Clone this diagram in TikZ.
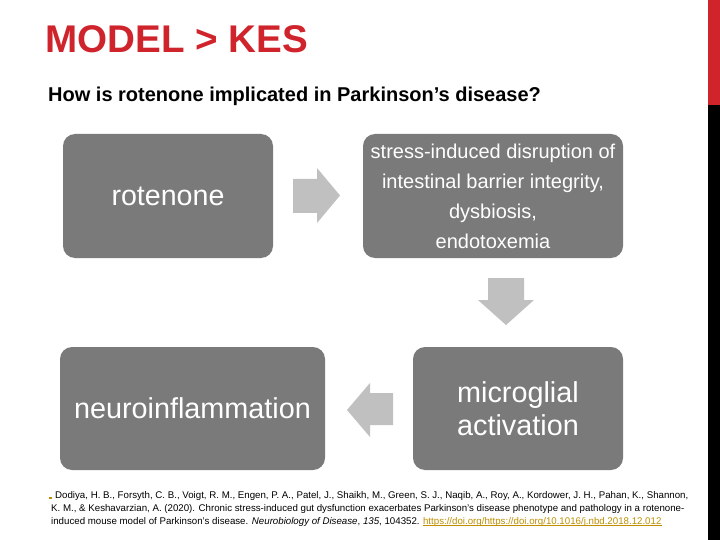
\documentclass[tikz,border=0pt]{standalone}
\usepackage{fontspec}
\setmainfont{Liberation Sans}
\definecolor{titlered}{RGB}{208,36,44}
\definecolor{boxgray}{RGB}{122,122,122}
\definecolor{arrowgray}{RGB}{192,192,192}
\definecolor{linkgold}{RGB}{191,143,0}
\begin{document}
\begin{tikzpicture}[x=1pt,y=-1pt,
  procbox/.style={fill=boxgray, draw=none, rounded corners=12pt, inner sep=0pt, text=white, align=center},
  blockarrow/.style={fill=arrowgray, draw=none},
  citeline/.style={anchor=base west, inner sep=0pt, font=\fontsize{9.7}{11}\selectfont}]
\useasboundingbox (0,0) rectangle (720,540);
\fill[white] (0,0) rectangle (720,540);
% side bar
\fill[titlered] (708,0) rectangle (720,105);
\fill[black] (708,105) rectangle (720,540);
% title
\node[anchor=base west, inner sep=0pt, text=titlered, font=\fontsize{38.6}{40}\selectfont\bfseries] (title) at (45,53) {MODEL > KES};
\node[anchor=base west, inner sep=0pt, font=\fontsize{20}{22}\selectfont\bfseries] (sub) at (48,102) {How is rotenone implicated in Parkinson’s disease?};
% boxes
\node[procbox, minimum width=210, minimum height=124, font=\fontsize{28.6}{33}\selectfont] (rot) at (168,196) {rotenone};
\node[procbox, minimum width=260, minimum height=124, font=\fontsize{20}{30}\selectfont] (stress) at (493,196) {stress-induced disruption of\\intestinal barrier integrity,\\dysbiosis,\\endotoxemia};
\node[procbox, minimum width=210, minimum height=123, font=\fontsize{28.8}{33}\selectfont] (micro) at (518,408.5) {microglial\\activation};
\node[procbox, minimum width=265, minimum height=123, font=\fontsize{28.8}{33}\selectfont] (neuro) at (192.5,408.5) {neuroinflammation};
% block arrows
\fill[blockarrow] (293,179) -- (317,179) -- (317,168) -- (340,195.5) -- (317,223) -- (317,213) -- (293,213) -- cycle;
\fill[blockarrow] (488,278) -- (524,278) -- (524,300) -- (534,300) -- (506,325) -- (478,300) -- (488,300) -- cycle;
\fill[blockarrow] (393,393) -- (370,393) -- (370,383) -- (347,410) -- (370,437) -- (370,425) -- (393,425) -- cycle;
% citation
\fill[linkgold] (49,497) rectangle (52,498.5);
\node[citeline] (c1) at (55,498) {Dodiya, H. B., Forsyth, C. B., Voigt, R. M., Engen, P. A., Patel, J., Shaikh, M., Green, S. J., Naqib, A., Roy, A., Kordower, J. H., Pahan, K., Shannon,};
\node[citeline] (c2) at (51,511) {K. M., \& Keshavarzian, A. (2020). Chronic stress-induced gut dysfunction exacerbates Parkinson’s disease phenotype and pathology in a rotenone-};
\node[citeline] (c3) at (51,524) {induced mouse model of Parkinson’s disease. \textit{Neurobiology of Disease}, \textit{135}, 104352.};
\node[citeline, text=linkgold, xshift=3pt] (lnk) at (c3.base east) {https://doi.org/https://doi.org/10.1016/j.nbd.2018.12.012};
\draw[linkgold, line width=1.3pt] ([yshift=-1.8pt]lnk.base west) -- ([yshift=-1.8pt]lnk.base east);
\end{tikzpicture}
\end{document}
